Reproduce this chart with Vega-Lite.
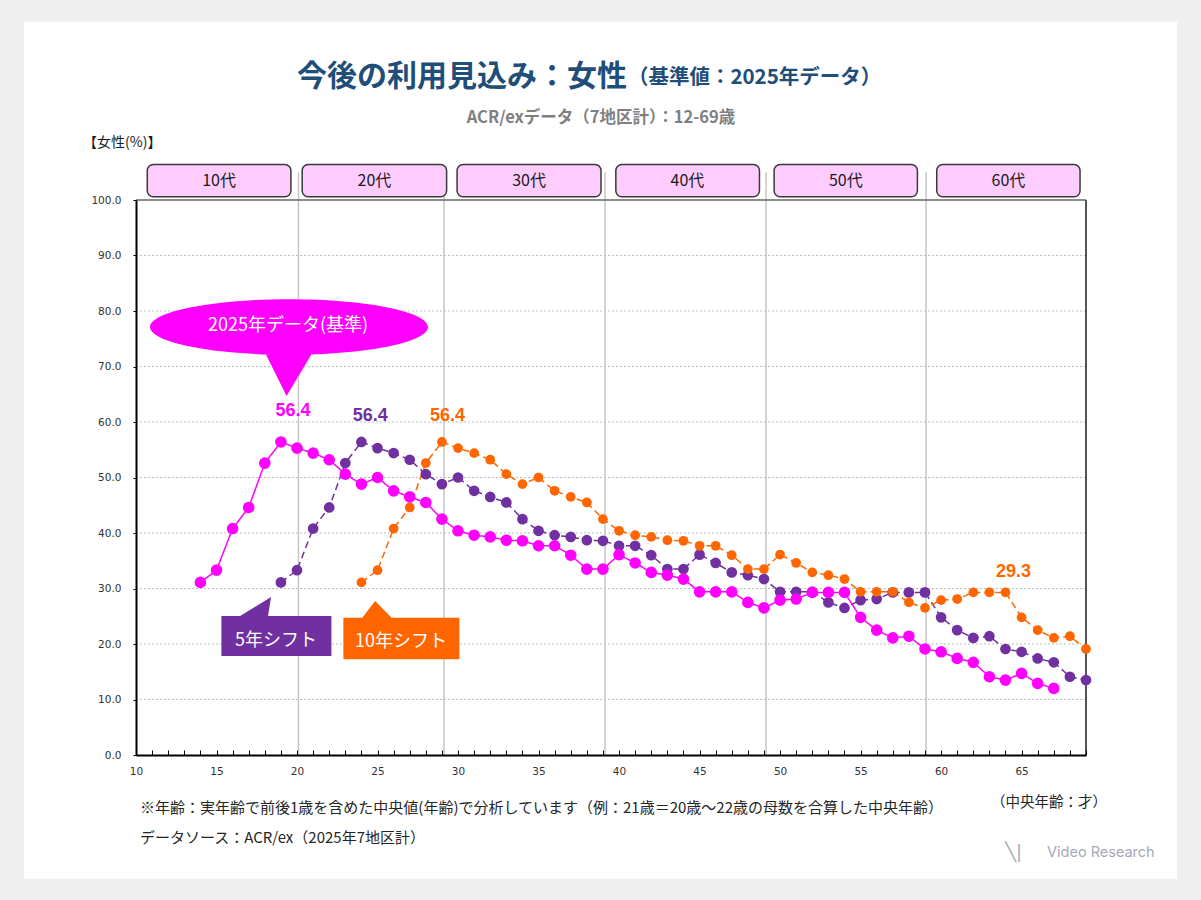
{
  "$schema": "https://vega.github.io/schema/vega-lite/v6.json",
  "width": 950,
  "height": 555,
  "autosize": {"type": "none"},
  "padding": {"left": 136, "top": 200, "right": 115, "bottom": 145},
  "background": "#efefef",
  "config": {"font": "Noto Sans CJK JP", "view": {"stroke": null}},
  "datasets": {
    "panel": [{"age": 3.04, "age2": 74.66, "pct": 132.1, "pct2": -22.3}],
    "gridlines": [
      {"age": 10, "age2": 69, "pct": 10}, {"age": 10, "age2": 69, "pct": 20}, {"age": 10, "age2": 69, "pct": 30},
      {"age": 10, "age2": 69, "pct": 40}, {"age": 10, "age2": 69, "pct": 50}, {"age": 10, "age2": 69, "pct": 60},
      {"age": 10, "age2": 69, "pct": 70}, {"age": 10, "age2": 69, "pct": 80}, {"age": 10, "age2": 69, "pct": 90}
    ],
    "dividers": [
      {"age": 20.09, "pct": 0, "pct2": 105}, {"age": 29.13, "pct": 0, "pct2": 105}, {"age": 39.13, "pct": 0, "pct2": 105},
      {"age": 49.13, "pct": 0, "pct2": 105}, {"age": 59.07, "pct": 0, "pct2": 105}
    ],
    "decades": [
      {"label": "10代", "age": 10.70, "age2": 19.62, "mid": 15.16, "pct": 106.4, "pct2": 100.6, "textPct": 103.4},
      {"label": "20代", "age": 20.32, "age2": 29.29, "mid": 24.81, "pct": 106.4, "pct2": 100.6, "textPct": 103.4},
      {"label": "30代", "age": 29.94, "age2": 38.88, "mid": 34.41, "pct": 106.4, "pct2": 100.6, "textPct": 103.4},
      {"label": "40代", "age": 39.80, "age2": 48.72, "mid": 44.25, "pct": 106.4, "pct2": 100.6, "textPct": 103.4},
      {"label": "50代", "age": 49.63, "age2": 58.53, "mid": 54.08, "pct": 106.4, "pct2": 100.6, "textPct": 103.4},
      {"label": "60代", "age": 59.73, "age2": 68.63, "mid": 64.18, "pct": 106.4, "pct2": 100.6, "textPct": 103.4}
    ],
    "series": [
      {"series": "5年シフト", "age": 19, "pct": 31.1}, {"series": "5年シフト", "age": 20, "pct": 33.3},
      {"series": "5年シフト", "age": 21, "pct": 40.8}, {"series": "5年シフト", "age": 22, "pct": 44.6},
      {"series": "5年シフト", "age": 23, "pct": 52.6}, {"series": "5年シフト", "age": 24, "pct": 56.4},
      {"series": "5年シフト", "age": 25, "pct": 55.3}, {"series": "5年シフト", "age": 26, "pct": 54.4},
      {"series": "5年シフト", "age": 27, "pct": 53.2}, {"series": "5年シフト", "age": 28, "pct": 50.6},
      {"series": "5年シフト", "age": 29, "pct": 48.8}, {"series": "5年シフト", "age": 30, "pct": 50.0},
      {"series": "5年シフト", "age": 31, "pct": 47.6}, {"series": "5年シフト", "age": 32, "pct": 46.5},
      {"series": "5年シフト", "age": 33, "pct": 45.5}, {"series": "5年シフト", "age": 34, "pct": 42.5},
      {"series": "5年シフト", "age": 35, "pct": 40.4}, {"series": "5年シフト", "age": 36, "pct": 39.6},
      {"series": "5年シフト", "age": 37, "pct": 39.3}, {"series": "5年シフト", "age": 38, "pct": 38.7},
      {"series": "5年シフト", "age": 39, "pct": 38.6}, {"series": "5年シフト", "age": 40, "pct": 37.7},
      {"series": "5年シフト", "age": 41, "pct": 37.7}, {"series": "5年シフト", "age": 42, "pct": 36.0},
      {"series": "5年シフト", "age": 43, "pct": 33.5}, {"series": "5年シフト", "age": 44, "pct": 33.5},
      {"series": "5年シフト", "age": 45, "pct": 36.1}, {"series": "5年シフト", "age": 46, "pct": 34.6},
      {"series": "5年シフト", "age": 47, "pct": 32.9}, {"series": "5年シフト", "age": 48, "pct": 32.4},
      {"series": "5年シフト", "age": 49, "pct": 31.7}, {"series": "5年シフト", "age": 50, "pct": 29.4},
      {"series": "5年シフト", "age": 51, "pct": 29.4}, {"series": "5年シフト", "age": 52, "pct": 29.4},
      {"series": "5年シフト", "age": 53, "pct": 27.5}, {"series": "5年シフト", "age": 54, "pct": 26.5},
      {"series": "5年シフト", "age": 55, "pct": 27.9}, {"series": "5年シフト", "age": 56, "pct": 28.1},
      {"series": "5年シフト", "age": 57, "pct": 29.3}, {"series": "5年シフト", "age": 58, "pct": 29.3},
      {"series": "5年シフト", "age": 59, "pct": 29.3}, {"series": "5年シフト", "age": 60, "pct": 24.8},
      {"series": "5年シフト", "age": 61, "pct": 22.5}, {"series": "5年シフト", "age": 62, "pct": 21.1},
      {"series": "5年シフト", "age": 63, "pct": 21.4}, {"series": "5年シフト", "age": 64, "pct": 19.1},
      {"series": "5年シフト", "age": 65, "pct": 18.6}, {"series": "5年シフト", "age": 66, "pct": 17.4},
      {"series": "5年シフト", "age": 67, "pct": 16.7}, {"series": "5年シフト", "age": 68, "pct": 14.1},
      {"series": "5年シフト", "age": 69, "pct": 13.5},
      {"series": "10年シフト", "age": 24, "pct": 31.1}, {"series": "10年シフト", "age": 25, "pct": 33.3},
      {"series": "10年シフト", "age": 26, "pct": 40.8}, {"series": "10年シフト", "age": 27, "pct": 44.6},
      {"series": "10年シフト", "age": 28, "pct": 52.6}, {"series": "10年シフト", "age": 29, "pct": 56.4},
      {"series": "10年シフト", "age": 30, "pct": 55.3}, {"series": "10年シフト", "age": 31, "pct": 54.4},
      {"series": "10年シフト", "age": 32, "pct": 53.2}, {"series": "10年シフト", "age": 33, "pct": 50.6},
      {"series": "10年シフト", "age": 34, "pct": 48.8}, {"series": "10年シフト", "age": 35, "pct": 50.0},
      {"series": "10年シフト", "age": 36, "pct": 47.6}, {"series": "10年シフト", "age": 37, "pct": 46.5},
      {"series": "10年シフト", "age": 38, "pct": 45.5}, {"series": "10年シフト", "age": 39, "pct": 42.5},
      {"series": "10年シフト", "age": 40, "pct": 40.4}, {"series": "10年シフト", "age": 41, "pct": 39.6},
      {"series": "10年シフト", "age": 42, "pct": 39.3}, {"series": "10年シフト", "age": 43, "pct": 38.7},
      {"series": "10年シフト", "age": 44, "pct": 38.6}, {"series": "10年シフト", "age": 45, "pct": 37.7},
      {"series": "10年シフト", "age": 46, "pct": 37.7}, {"series": "10年シフト", "age": 47, "pct": 36.0},
      {"series": "10年シフト", "age": 48, "pct": 33.5}, {"series": "10年シフト", "age": 49, "pct": 33.5},
      {"series": "10年シフト", "age": 50, "pct": 36.1}, {"series": "10年シフト", "age": 51, "pct": 34.6},
      {"series": "10年シフト", "age": 52, "pct": 32.9}, {"series": "10年シフト", "age": 53, "pct": 32.4},
      {"series": "10年シフト", "age": 54, "pct": 31.7}, {"series": "10年シフト", "age": 55, "pct": 29.4},
      {"series": "10年シフト", "age": 56, "pct": 29.4}, {"series": "10年シフト", "age": 57, "pct": 29.4},
      {"series": "10年シフト", "age": 58, "pct": 27.5}, {"series": "10年シフト", "age": 59, "pct": 26.5},
      {"series": "10年シフト", "age": 60, "pct": 27.9}, {"series": "10年シフト", "age": 61, "pct": 28.1},
      {"series": "10年シフト", "age": 62, "pct": 29.3}, {"series": "10年シフト", "age": 63, "pct": 29.3},
      {"series": "10年シフト", "age": 64, "pct": 29.3}, {"series": "10年シフト", "age": 65, "pct": 24.8},
      {"series": "10年シフト", "age": 66, "pct": 22.5}, {"series": "10年シフト", "age": 67, "pct": 21.1},
      {"series": "10年シフト", "age": 68, "pct": 21.4}, {"series": "10年シフト", "age": 69, "pct": 19.1},
      {"series": "2025年データ(基準)", "age": 14, "pct": 31.1}, {"series": "2025年データ(基準)", "age": 15, "pct": 33.3},
      {"series": "2025年データ(基準)", "age": 16, "pct": 40.8}, {"series": "2025年データ(基準)", "age": 17, "pct": 44.6},
      {"series": "2025年データ(基準)", "age": 18, "pct": 52.6}, {"series": "2025年データ(基準)", "age": 19, "pct": 56.4},
      {"series": "2025年データ(基準)", "age": 20, "pct": 55.3}, {"series": "2025年データ(基準)", "age": 21, "pct": 54.4},
      {"series": "2025年データ(基準)", "age": 22, "pct": 53.2}, {"series": "2025年データ(基準)", "age": 23, "pct": 50.6},
      {"series": "2025年データ(基準)", "age": 24, "pct": 48.8}, {"series": "2025年データ(基準)", "age": 25, "pct": 50.0},
      {"series": "2025年データ(基準)", "age": 26, "pct": 47.6}, {"series": "2025年データ(基準)", "age": 27, "pct": 46.5},
      {"series": "2025年データ(基準)", "age": 28, "pct": 45.5}, {"series": "2025年データ(基準)", "age": 29, "pct": 42.5},
      {"series": "2025年データ(基準)", "age": 30, "pct": 40.4}, {"series": "2025年データ(基準)", "age": 31, "pct": 39.6},
      {"series": "2025年データ(基準)", "age": 32, "pct": 39.3}, {"series": "2025年データ(基準)", "age": 33, "pct": 38.7},
      {"series": "2025年データ(基準)", "age": 34, "pct": 38.6}, {"series": "2025年データ(基準)", "age": 35, "pct": 37.7},
      {"series": "2025年データ(基準)", "age": 36, "pct": 37.7}, {"series": "2025年データ(基準)", "age": 37, "pct": 36.0},
      {"series": "2025年データ(基準)", "age": 38, "pct": 33.5}, {"series": "2025年データ(基準)", "age": 39, "pct": 33.5},
      {"series": "2025年データ(基準)", "age": 40, "pct": 36.1}, {"series": "2025年データ(基準)", "age": 41, "pct": 34.6},
      {"series": "2025年データ(基準)", "age": 42, "pct": 32.9}, {"series": "2025年データ(基準)", "age": 43, "pct": 32.4},
      {"series": "2025年データ(基準)", "age": 44, "pct": 31.7}, {"series": "2025年データ(基準)", "age": 45, "pct": 29.4},
      {"series": "2025年データ(基準)", "age": 46, "pct": 29.4}, {"series": "2025年データ(基準)", "age": 47, "pct": 29.4},
      {"series": "2025年データ(基準)", "age": 48, "pct": 27.5}, {"series": "2025年データ(基準)", "age": 49, "pct": 26.5},
      {"series": "2025年データ(基準)", "age": 50, "pct": 27.9}, {"series": "2025年データ(基準)", "age": 51, "pct": 28.1},
      {"series": "2025年データ(基準)", "age": 52, "pct": 29.3}, {"series": "2025年データ(基準)", "age": 53, "pct": 29.3},
      {"series": "2025年データ(基準)", "age": 54, "pct": 29.3}, {"series": "2025年データ(基準)", "age": 55, "pct": 24.8},
      {"series": "2025年データ(基準)", "age": 56, "pct": 22.5}, {"series": "2025年データ(基準)", "age": 57, "pct": 21.1},
      {"series": "2025年データ(基準)", "age": 58, "pct": 21.4}, {"series": "2025年データ(基準)", "age": 59, "pct": 19.1},
      {"series": "2025年データ(基準)", "age": 60, "pct": 18.6}, {"series": "2025年データ(基準)", "age": 61, "pct": 17.4},
      {"series": "2025年データ(基準)", "age": 62, "pct": 16.7}, {"series": "2025年データ(基準)", "age": 63, "pct": 14.1},
      {"series": "2025年データ(基準)", "age": 64, "pct": 13.5}, {"series": "2025年データ(基準)", "age": 65, "pct": 14.7},
      {"series": "2025年データ(基準)", "age": 66, "pct": 12.9}, {"series": "2025年データ(基準)", "age": 67, "pct": 12.0}
    ],
    "labels": [
      {"series": "2025年データ(基準)", "age": 19.75, "pct": 62.0, "label": "56.4"},
      {"series": "5年シフト", "age": 24.55, "pct": 61.1, "label": "56.4"},
      {"series": "10年シフト", "age": 29.35, "pct": 61.1, "label": "56.4"},
      {"series": "10年シフト", "age": 64.5, "pct": 33.0, "label": "29.3"}
    ],
    "callouts": [
      {"key": "base", "age": 19.50, "pct": 77.12},
      {"key": "shift5", "age": 18.72, "pct": 21.44},
      {"key": "shift10", "age": 26.48, "pct": 20.99}
    ],
    "calloutText": [
      {"label": "2025年データ(基準)", "age": 19.44, "pct": 77.3},
      {"label": "5年シフト", "age": 18.7, "pct": 20.5},
      {"label": "10年シフト", "age": 26.46, "pct": 20.36}
    ]
  },
  "encoding": {
    "x": {
      "field": "age",
      "type": "quantitative",
      "title": null,
      "scale": {"domain": [10, 69], "nice": false, "zero": false},
      "axis": {
        "values": [10,11,12,13,14,15,16,17,18,19,20,21,22,23,24,25,26,27,28,29,30,31,32,33,34,35,36,37,38,39,40,41,42,43,44,45,46,47,48,49,50,51,52,53,54,55,56,57,58,59,60,61,62,63,64,65,66,67,68,69],
        "labelExpr": "datum.value % 5 === 0 ? datum.label : ''",
        "grid": false,
        "domainColor": "#000000",
        "domainWidth": 2,
        "tickColor": "#000000",
        "tickSize": -5,
        "labelPadding": 16,
        "labelFont": "DejaVu Sans",
        "labelFontSize": 10.5,
        "labelColor": "#333333",
        "labelFlush": false,
        "zindex": 1
      }
    },
    "y": {
      "field": "pct",
      "type": "quantitative",
      "title": null,
      "scale": {"domain": [0, 100], "nice": false},
      "axis": {
        "values": [0, 10, 20, 30, 40, 50, 60, 70, 80, 90, 100],
        "format": ".1f",
        "grid": false,
        "domainColor": "#000000",
        "domainWidth": 2,
        "tickColor": "#000000",
        "tickSize": 3,
        "labelPadding": 12,
        "labelFont": "DejaVu Sans",
        "labelFontSize": 10.5,
        "labelColor": "#333333",
        "zindex": 1
      }
    }
  },
  "layer": [
    {
      "data": {"name": "panel"},
      "mark": {"type": "rect", "fill": "#ffffff"},
      "encoding": {"x2": {"field": "age2"}, "y2": {"field": "pct2"}}
    },
    {
      "data": {"name": "gridlines"},
      "mark": {"type": "rule", "color": "#bdbdbd", "strokeWidth": 1, "strokeDash": [2, 2]},
      "encoding": {"x2": {"field": "age2"}}
    },
    {
      "data": {"name": "dividers"},
      "mark": {"type": "rule", "color": "#c6c6c6", "strokeWidth": 1.5},
      "encoding": {"y2": {"field": "pct2"}}
    },
    {
      "data": {"name": "panel"},
      "mark": {"type": "rule", "color": "#666666", "strokeWidth": 1.5},
      "encoding": {"x": {"datum": 10}, "x2": {"datum": 69}, "y": {"datum": 100}}
    },
    {
      "data": {"name": "panel"},
      "mark": {"type": "rule", "color": "#555555", "strokeWidth": 2},
      "encoding": {"x": {"datum": 69}, "y": {"datum": 0}, "y2": {"datum": 100}}
    },
    {
      "data": {"name": "decades"},
      "mark": {"type": "rect", "fill": "#ffccff", "stroke": "#3a3a3a", "strokeWidth": 1.5, "cornerRadius": 6},
      "encoding": {"x2": {"field": "age2"}, "y2": {"field": "pct2"}}
    },
    {
      "data": {"name": "decades"},
      "mark": {"type": "text", "fontSize": 16, "color": "#1a1a1a", "baseline": "middle"},
      "encoding": {
        "x": {"field": "mid", "type": "quantitative"},
        "y": {"field": "textPct", "type": "quantitative"},
        "text": {"field": "label"}
      }
    },
    {
      "data": {"name": "series"},
      "mark": {"type": "line", "strokeWidth": 1.5},
      "encoding": {
        "color": {
          "field": "series",
          "type": "nominal",
          "legend": null,
          "scale": {"domain": ["2025年データ(基準)", "5年シフト", "10年シフト"], "range": ["#ff00ff", "#7030a0", "#ff6600"]}
        },
        "strokeDash": {
          "field": "series",
          "type": "nominal",
          "legend": null,
          "scale": {"domain": ["2025年データ(基準)", "5年シフト", "10年シフト"], "range": [[1, 0], [7, 4], [7, 4]]}
        }
      }
    },
    {
      "data": {"name": "series"},
      "mark": {"type": "circle", "opacity": 1},
      "encoding": {
        "color": {"field": "series", "type": "nominal", "legend": null},
        "size": {
          "field": "series",
          "type": "nominal",
          "legend": null,
          "scale": {"domain": ["2025年データ(基準)", "5年シフト", "10年シフト"], "range": [135, 95, 95]}
        }
      }
    },
    {
      "data": {"name": "labels"},
      "mark": {"type": "text", "font": "Liberation Sans", "fontSize": 18, "fontWeight": "bold", "baseline": "middle"},
      "encoding": {"color": {"field": "series", "type": "nominal", "legend": null}, "text": {"field": "label"}}
    },
    {
      "data": {"name": "callouts"},
      "transform": [{"filter": "datum.key === 'base'"}],
      "mark": {
        "type": "point",
        "filled": true,
        "fill": "#ff00ff",
        "opacity": 1,
        "strokeWidth": 0,
        "size": 77284,
        "shape": "M -1 0 C -1 0.1105 -0.5523 0.2 0 0.2 C 0.5523 0.2 1 0.1105 1 0 C 1 -0.1105 0.5523 -0.2 0 -0.2 C -0.5523 -0.2 -1 -0.1105 -1 0 Z M -0.19 0.15 L -0.017 0.496 L 0.19 0.15 Z"
      }
    },
    {
      "data": {"name": "callouts"},
      "transform": [{"filter": "datum.key === 'shift5'"}],
      "mark": {
        "type": "point",
        "filled": true,
        "fill": "#7030a0",
        "opacity": 1,
        "strokeWidth": 0,
        "size": 12100,
        "shape": "M -1 -0.364 L -0.661 -0.364 L -0.097 -0.709 L -0.152 -0.364 L 1 -0.364 L 1 0.364 L -1 0.364 Z"
      }
    },
    {
      "data": {"name": "callouts"},
      "transform": [{"filter": "datum.key === 'shift10'"}],
      "mark": {
        "type": "point",
        "filled": true,
        "fill": "#ff6600",
        "opacity": 1,
        "strokeWidth": 0,
        "size": 13456,
        "shape": "M -1 -0.359 L -0.674 -0.359 L -0.453 -0.647 L -0.167 -0.359 L 1 -0.359 L 1 0.359 L -1 0.359 Z"
      }
    },
    {
      "data": {"name": "calloutText"},
      "mark": {"type": "text", "fontSize": 18, "color": "#ffffff", "baseline": "middle"},
      "encoding": {"text": {"field": "label"}}
    },
    {
      "data": {"values": [{"label": "今後の利用見込み：女性", "age": 40.5, "pct": 122.2}]},
      "mark": {"type": "text", "fontSize": 30, "fontWeight": "bold", "color": "#1f4e79", "align": "right", "baseline": "middle"},
      "encoding": {"text": {"field": "label"}}
    },
    {
      "data": {"values": [{"label": "（基準値：2025年データ）", "age": 40.55, "pct": 121.9}]},
      "mark": {"type": "text", "fontSize": 20.5, "fontWeight": "bold", "color": "#1f4e79", "align": "left", "baseline": "middle"},
      "encoding": {"text": {"field": "label"}}
    },
    {
      "data": {"values": [{"label": "ACR/exデータ（7地区計）：12-69歳", "age": 38.88, "pct": 114.8}]},
      "mark": {"type": "text", "fontSize": 16.5, "fontWeight": "bold", "color": "#808080", "align": "center", "baseline": "middle"},
      "encoding": {"text": {"field": "label"}}
    },
    {
      "data": {"values": [{"label": "【女性(%)】", "age": 6.71, "pct": 110.3}]},
      "mark": {"type": "text", "fontSize": 14, "color": "#1a1a1a", "align": "left", "baseline": "middle"},
      "encoding": {"text": {"field": "label"}}
    },
    {
      "data": {"values": [
        {"label": "※年齢：実年齢で前後1歳を含めた中央値(年齢)で分析しています（例：21歳＝20歳～22歳の母数を合算した中央年齢）", "age": 10.25, "pct": -9.55},
        {"label": "データソース：ACR/ex（2025年7地区計）", "age": 10.25, "pct": -14.95}
      ]},
      "mark": {"type": "text", "fontSize": 15, "color": "#262626", "align": "left", "baseline": "middle"},
      "encoding": {"text": {"field": "label"}}
    },
    {
      "data": {"values": [{"label": "（中央年齢：才）", "age": 70.31, "pct": -8.65}]},
      "mark": {"type": "text", "fontSize": 14.5, "color": "#262626", "align": "right", "baseline": "middle"},
      "encoding": {"text": {"field": "label"}}
    },
    {
      "data": {"values": [{"label": "Video Research", "age": 66.58, "pct": -17.66}]},
      "mark": {"type": "text", "font": "Inter", "fontSize": 14.5, "color": "#a8a8b8", "align": "left", "baseline": "middle"},
      "encoding": {"text": {"field": "label"}}
    },
    {
      "data": {"values": [{"label": "╲|", "age": 63.98, "pct": -17.66}]},
      "mark": {"type": "text", "font": "DejaVu Sans", "fontSize": 18, "color": "#a8a8b8", "align": "left", "baseline": "middle"},
      "encoding": {"text": {"field": "label"}}
    }
  ]
}
